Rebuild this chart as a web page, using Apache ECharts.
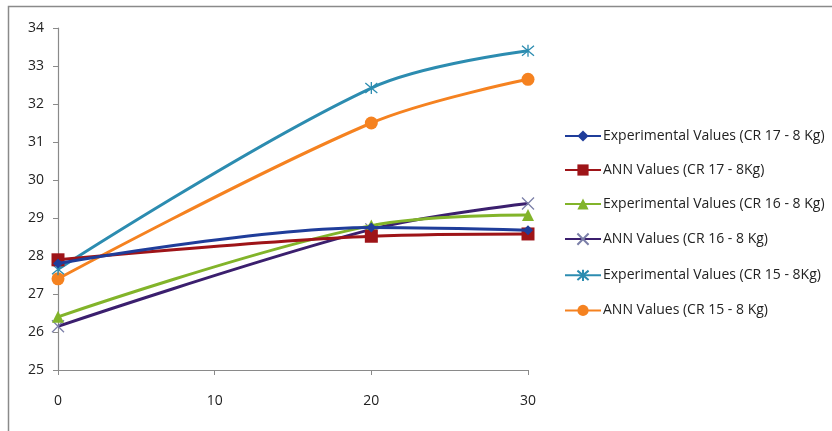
<!DOCTYPE html>
<html>
<head>
<meta charset="utf-8">
<script src="https://cdn.jsdelivr.net/npm/echarts@6/dist/echarts.min.js"></script>
<style>html,body{margin:0;padding:0;background:#fff}#c{width:832px;height:431px}</style>
</head>
<body>
<div id="c"></div>
<script>
var xValues = [0, 20, 30];
var seriesNames = [
  "Experimental Values (CR 17 - 8 Kg)",
  "ANN Values (CR 17 - 8Kg)",
  "Experimental Values (CR 16 - 8 Kg)",
  "ANN Values (CR 16 - 8 Kg)",
  "Experimental Values (CR 15 - 8Kg)",
  "ANN Values (CR 15 - 8 Kg)"
];
var expCR17 = [27.8, 28.75, 28.68];
var annCR17 = [27.9, 28.52, 28.58];
var expCR16 = [26.4, 28.8, 29.08];
var annCR16 = [26.15, 28.7, 29.38];
var expCR15 = [27.65, 32.42, 33.4];
var annCR15 = [27.4, 31.5, 32.65];
var yTicks = [25, 34, 1];
var xTicks = [0, 30, 10];

var colors = ["#1F3D9A", "#9E1418", "#82B42A", "#3B1F6E", "#2C8CB0", "#F58220"];
var symbols = ["diamond", "rect", "triangle",
  "path://M0,0L10,10M10,0L0,10",
  "path://M0,0L10,10M10,0L0,10M5,-1L5,11",
  "circle"];
var sizes = [10, 13, 12, 12, 12, 13];
var all = [expCR17, annCR17, expCR16, annCR16, expCR15, annCR15];

function pairs(arr){ return arr.map(function(v,i){ return [xValues[i], v]; }); }

var series = all.map(function(arr, i){
  var isPath = symbols[i].indexOf("path://") === 0;
  return {
    name: seriesNames[i],
    type: "line",
    data: pairs(arr),
    smooth: 0.35,
    symbol: symbols[i],
    symbolSize: sizes[i],
    lineStyle: { color: colors[i], width: 3 },
    itemStyle: isPath ? { color: "none", borderColor: i === 3 ? "#7B7FA8" : "#2C8CB0", borderWidth: 1.3 } : { color: colors[i], borderWidth: 0 },
    z: 2 + (5 - i),
    emphasis: { disabled: true }
  };
});

var chart = echarts.init(document.getElementById("c"), null, { renderer: "canvas" });
chart.setOption({
  animation: false,
  backgroundColor: "#fff",
  color: colors,
  graphic: [{
    type: "rect",
    shape: { x: 8.5, y: 6.5, width: 840, height: 440 },
    style: { fill: "none", stroke: "#8a8a8a", lineWidth: 1.5 },
    silent: true
  }],
  grid: { left: 58, right: 304, top: 28, bottom: 61, containLabel: false },
  legend: {
    orient: "vertical",
    left: 559,
    top: 124,
    itemGap: 20,
    itemWidth: 36,
    itemHeight: 14,
    textStyle: { fontFamily: "Open Sans", fontSize: 14, color: "#222", padding: [0, 0, 0, -3] },
    data: seriesNames
  },
  xAxis: {
    type: "value",
    min: xTicks[0], max: xTicks[1], interval: xTicks[2],
    axisLine: { lineStyle: { color: "#8a8a8a", width: 1.2 } },
    axisTick: { show: true, length: 5, lineStyle: { color: "#8a8a8a" } },
    axisLabel: { color: "#222", fontFamily: "Open Sans", fontSize: 14, margin: 24 },
    splitLine: { show: false }
  },
  yAxis: {
    type: "value",
    min: yTicks[0], max: yTicks[1], interval: yTicks[2],
    axisLine: { show: true, lineStyle: { color: "#8a8a8a", width: 1.2 } },
    axisTick: { show: true, length: 5, lineStyle: { color: "#8a8a8a" } },
    axisLabel: { color: "#222", fontFamily: "Open Sans", fontSize: 14, margin: 14 },
    splitLine: { show: false }
  },
  series: series
});
</script>
</body>
</html>
